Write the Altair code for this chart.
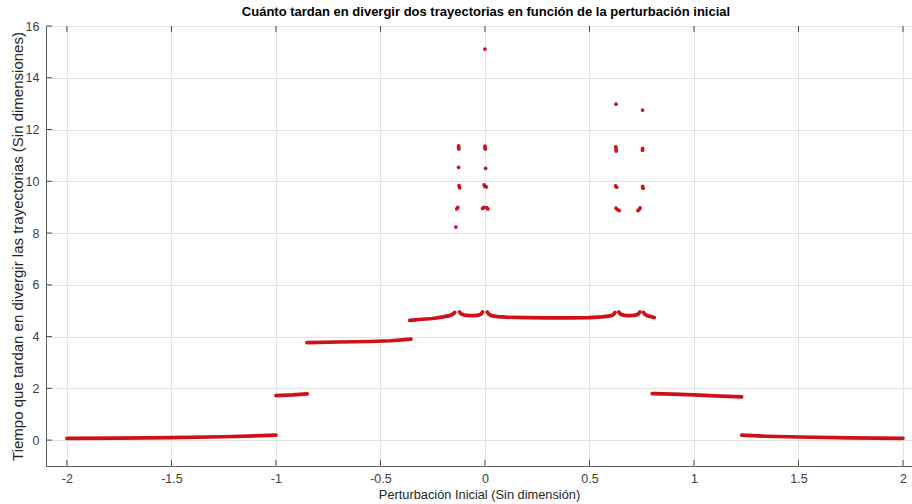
import altair as alt
import pandas as pd

# Continuous branches of divergence time vs. initial perturbation
seg_id = ([1] * 5 + [2] * 3 + [3] * 5 + [4] * 7 + [5] * 8 + [6] * 13
          + [7] * 8 + [8] * 5 + [9] * 5 + [10] * 5)
seg_x = [
    -2.0, -1.75, -1.5, -1.25, -1.0,
    -1.0, -0.92, -0.85,
    -0.852, -0.7, -0.55, -0.45, -0.354,
    -0.36, -0.3, -0.25, -0.2, -0.17, -0.155, -0.145,
    -0.122, -0.112, -0.098, -0.075, -0.05, -0.03, -0.018, -0.011,
    0.011, 0.018, 0.03, 0.06, 0.1, 0.2, 0.3, 0.4, 0.5, 0.56, 0.6, 0.615, 0.622,
    0.64, 0.648, 0.662, 0.68, 0.7, 0.72, 0.733, 0.742,
    0.758, 0.765, 0.78, 0.795, 0.81,
    0.80, 0.9, 1.0, 1.1, 1.228,
    1.228, 1.35, 1.5, 1.75, 2.0,
]
seg_y = [
    0.07, 0.08, 0.10, 0.13, 0.19,
    1.72, 1.75, 1.79,
    3.77, 3.79, 3.81, 3.84, 3.90,
    4.63, 4.67, 4.70, 4.76, 4.81, 4.86, 4.93,
    4.95, 4.87, 4.83, 4.81, 4.81, 4.83, 4.87, 4.95,
    4.95, 4.87, 4.81, 4.77, 4.75, 4.73, 4.72, 4.72, 4.73, 4.76, 4.80, 4.85, 4.93,
    4.95, 4.87, 4.83, 4.81, 4.81, 4.83, 4.87, 4.95,
    4.93, 4.86, 4.80, 4.77, 4.74,
    1.80, 1.78, 1.75, 1.71, 1.67,
    0.19, 0.15, 0.12, 0.09, 0.07,
]

# Isolated long-divergence points
dot_x = [
    0.0,
    -0.126, -0.126, -0.125, -0.126, -0.124, -0.121, -0.13, -0.135, -0.139,
    0.0, 0.0, 0.002, 0.003, -0.004, 0.0, 0.006, -0.011, -0.006, 0.008, 0.014,
    0.627, 0.754, 0.626, 0.627, 0.628, 0.754, 0.754, 0.625, 0.63, 0.754, 0.757,
    0.627, 0.634, 0.642, 0.742, 0.738, 0.732,
]
dot_y = [
    15.11,
    11.37, 11.31, 11.25, 10.54, 9.83, 9.75, 8.99, 8.93, 8.23,
    11.36, 11.30, 11.25, 10.50, 9.86, 9.80, 9.78, 8.95, 8.99, 8.98, 8.93,
    12.98, 12.75, 11.33, 11.25, 11.17, 11.27, 11.20, 9.82, 9.77, 9.80, 9.73,
    8.96, 8.91, 8.87, 8.97, 8.92, 8.87,
]

x_ticks = [-2, -1.5, -1, -0.5, 0, 0.5, 1, 1.5, 2]
y_ticks = [0, 2, 4, 6, 8, 10, 12, 14, 16]

RED = "#cf1019"
FONT = "Liberation Sans"

segs = pd.DataFrame({"seg": seg_id, "x": seg_x, "y": seg_y})
dots = pd.DataFrame({"x": dot_x, "y": dot_y})
xt = pd.DataFrame({"x": x_ticks})
yt = pd.DataFrame({"y": y_ticks})

xs = alt.Scale(domain=[-2.1, 2.043], nice=False, zero=False)
ys = alt.Scale(domain=[-1, 16], nice=False, zero=False)

x_axis = alt.Axis(values=x_ticks, labelExpr="'' + datum.value", grid=True,
                  ticks=False, domain=False, labelPadding=6, titlePadding=4,
                  titleFontSize=12.8,
                  title="Perturbación Inicial (Sin dimensión)")
y_axis = alt.Axis(values=y_ticks, labelExpr="'' + datum.value", grid=True,
                  ticks=False, domain=False, labelPadding=7, titlePadding=0,
                  titleFontSize=15,
                  title="Tiempo que tardan en divergir las trayectorias (Sin dimensiones)")

lines = alt.Chart(segs).mark_line(color=RED, strokeWidth=3.7, strokeCap="round").encode(
    x=alt.X("x:Q", scale=xs, axis=x_axis),
    y=alt.Y("y:Q", scale=ys, axis=y_axis),
    detail="seg:N",
)

points = alt.Chart(dots).mark_circle(color=RED, size=14, opacity=1).encode(
    x=alt.X("x:Q", scale=xs),
    y=alt.Y("y:Q", scale=ys),
)

TICK = "#4a4a4a"
bot_ticks = alt.Chart(xt).mark_rule(color=TICK, strokeWidth=1).encode(
    x=alt.X("x:Q", scale=xs), y=alt.value(440), y2=alt.value(434))
top_ticks = alt.Chart(xt).mark_rule(color=TICK, strokeWidth=1).encode(
    x=alt.X("x:Q", scale=xs), y=alt.value(0), y2=alt.value(6))
left_ticks = alt.Chart(yt).mark_rule(color=TICK, strokeWidth=1).encode(
    y=alt.Y("y:Q", scale=ys), x=alt.value(0), x2=alt.value(6))

chart = alt.layer(lines, points, bot_ticks, top_ticks, left_ticks).properties(
    width=866,
    height=440,
    padding={"left": 46, "top": 26, "right": 0, "bottom": 38},
    autosize=alt.AutoSizeParams(type="none"),
    title=alt.TitleParams(
        "Cuánto tardan en divergir dos trayectorias en función de la perturbación inicial",
        font=FONT, fontSize=13, fontWeight="bold", color="#000000",
        anchor="middle", dx=7, offset=1,
    ),
).configure_view(
    stroke="#5a5a5a", strokeWidth=1,
).configure_axis(
    gridColor="#e3e3e3", gridWidth=1,
    labelFont=FONT, labelFontSize=12.5, labelColor="#404040",
    titleFont=FONT, titleColor="#262626", titleFontWeight="normal",
)

chart.save("out.html", embed_options={"renderer": "svg", "actions": False})
